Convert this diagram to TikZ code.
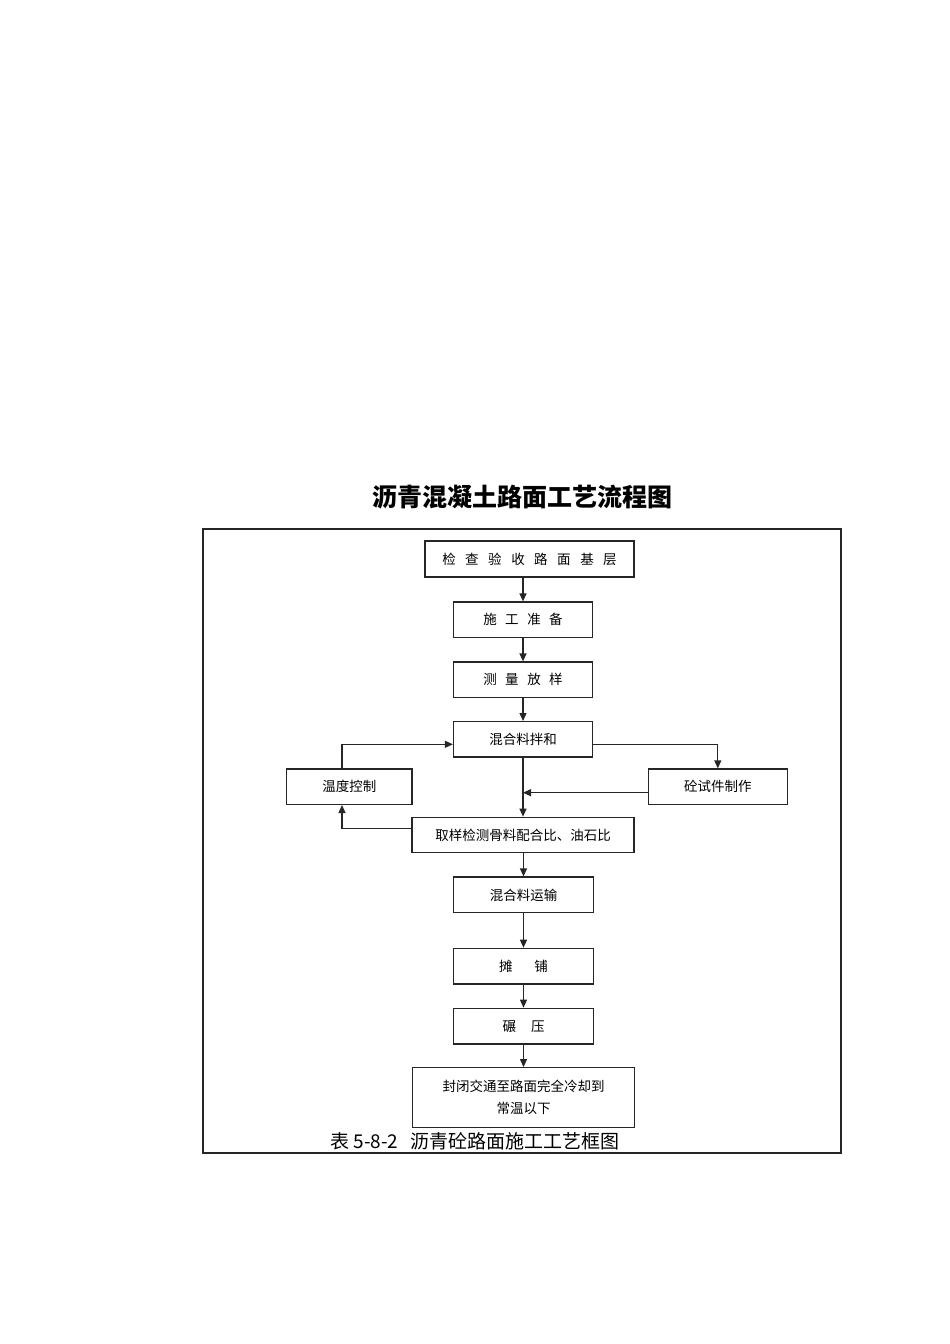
\documentclass[tikz,border=0pt]{standalone}
\usepackage{fontspec}
\setmainfont{Noto Sans CJK SC}
\usetikzlibrary{arrows.meta}
\begin{document}
\begin{tikzpicture}[x=1pt,y=-1pt,
  box/.style={draw=black!85, line width=1.3pt, inner sep=0pt, align=center, font=\fontsize{13.5}{22}\selectfont},
  flow/.style={draw=black!85, line width=1.2pt, -{Triangle[length=8pt,width=7pt]}},
  ln/.style={draw=black!85, line width=1.2pt}]
\useasboundingbox (0,0) rectangle (950,1344);
\fill[white] (0,0) rectangle (950,1344);
% title
\node (title) at (522,497.5) {\fontsize{25}{30}\selectfont\bfseries 沥青混凝土路面工艺流程图};
% frame
\draw[line width=2.4pt, black!85] (203,529) rectangle (841,1153);
% boxes
\node[box, minimum width=209pt, minimum height=36pt] (b1) at (529.5,559) {检\hspace{9.5pt}查\hspace{9.5pt}验\hspace{9.5pt}收\hspace{9.5pt}路\hspace{9.5pt}面\hspace{9.5pt}基\hspace{9.5pt}层};
\node[box, minimum width=139pt, minimum height=35.3pt] (b2) at (523,619.7) {施\hspace{8.5pt}工\hspace{8.5pt}准\hspace{8.5pt}备};
\node[box, minimum width=139pt, minimum height=35.3pt] (b3) at (523,679.7) {测\hspace{8.5pt}量\hspace{8.5pt}放\hspace{8.5pt}样};
\node[box, minimum width=139pt, minimum height=35.3pt] (b4) at (523,739.3) {混合料拌和};
\node[box, minimum width=125.4pt, minimum height=35.3pt] (temp) at (349.3,786.7) {温度控制};
\node[box, minimum width=139pt, minimum height=35.3pt] (spec) at (717.8,786.7) {砼试件制作};
\node[box, minimum width=222pt, minimum height=35.4pt] (samp) at (523.1,835) {取样检测骨料配合比、油石比};
\node[box, minimum width=139.5pt, minimum height=35.7pt] (tr) at (523.5,894.9) {混合料运输};
\node[box, minimum width=139.5pt, minimum height=35.7pt] (pave) at (523.5,966.2) {摊\hspace{22pt}铺};
\node[box, minimum width=139.5pt, minimum height=35.7pt] (roll) at (523.5,1026.2) {碾\hspace{15pt}压};
\node[box, minimum width=222pt, minimum height=60pt] (fin) at (523.5,1097.7) {封闭交通至路面完全冷却到\\常温以下};
% caption
\node (cap) at (475,1141.5) {\fontsize{19}{22}\selectfont 表 5-8-2\hspace{12pt}沥青砼路面施工工艺框图};
% coordinates
\coordinate (tl) at (342,744.3);
\coordinate (tb) at (342,828.3);
\coordinate (rc) at (717.8,744.3);
\coordinate (mj) at (523,792.7);
% connectors
\draw[flow] (b1.south -| b2.north) -- (b2.north);
\draw[flow] (b2) -- (b3);
\draw[flow] (b3) -- (b4);
\draw[flow] (b4.south) -- (samp.north -| b4.south);
\draw[flow] (b4.east |- rc) -- (rc) -- (spec.north);
\draw[flow] (tl |- temp.north) -- (tl) -- (b4.west |- tl);
\draw[flow] (samp.west |- tb) -- (tb) -- (tl |- temp.south);
\draw[flow] (spec.west |- mj) -- (mj);
\draw[flow] (samp.south -| tr.north) -- (tr.north);
\draw[flow] (tr) -- (pave);
\draw[flow] (pave) -- (roll);
\draw[flow] (roll) -- (fin);
\end{tikzpicture}
\end{document}
